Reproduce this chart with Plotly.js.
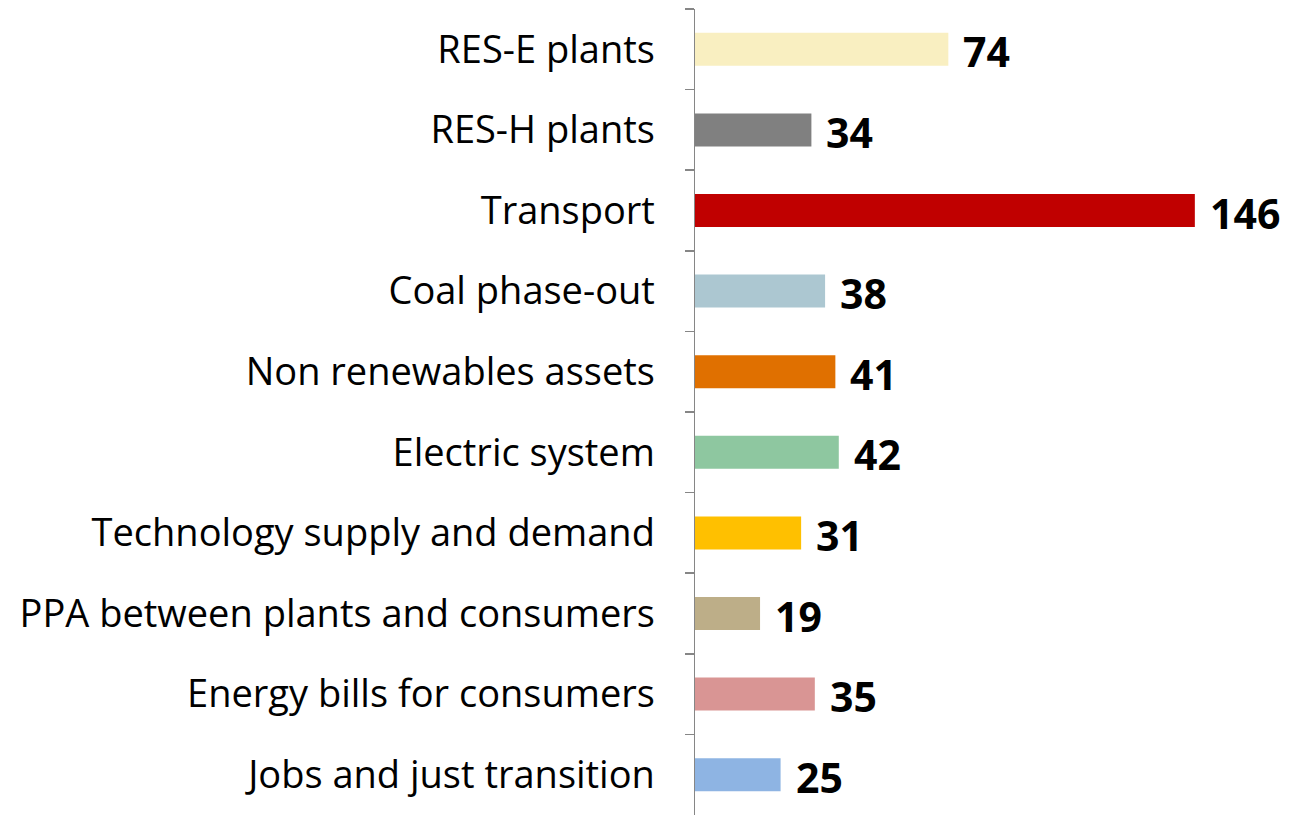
<!DOCTYPE html>
<html>
<head>
<meta charset="utf-8">
<script src="https://cdn.plot.ly/plotly-3.0.1.min.js"></script>
<style>html,body{margin:0;padding:0;background:#fff;}#chart{width:1305px;height:816px;}</style>
</head>
<body>
<div id="chart"></div>
<script>
const categories = ["RES-E plants","RES-H plants","Transport","Coal phase-out","Non renewables assets","Electric system","Technology supply and demand","PPA between plants and consumers","Energy bills for consumers","Jobs and just transition"];
const values = [74,34,146,38,41,42,31,19,35,25];
const barColors = ["#F9EFC1","#808080","#C00000","#ACC7D1","#E07000","#8EC7A0","#FFC000","#BDAE88","#D99594","#8EB4E3"];

const trace = {
  type: "bar",
  orientation: "h",
  x: values,
  y: categories,
  marker: {color: barColors, line: {width: 0}},
  hoverinfo: "none"
};

const annotations = values.map((v, i) => ({
  x: v, y: categories[i], xref: "x", yref: "y",
  text: String(v), showarrow: false, xanchor: "left", yanchor: "middle",
  xshift: 13, yshift: -2, font: {family: "Open Sans", size: 41, color: "#000", weight: 700}
}));

const layout = {
  width: 1305, height: 816,
  margin: {l: 695, r: 28, t: 9, b: 1},
  paper_bgcolor: "#fff", plot_bgcolor: "#fff",
  showlegend: false,
  bargap: 0.59,
  xaxis: {range: [0, 170], visible: false, showgrid: false, zeroline: false, fixedrange: true},
  yaxis: {
    type: "category", autorange: "reversed",
    showline: true, linecolor: "#868686", linewidth: 1.5,
    ticks: "outside", tickson: "boundaries", ticklen: 9, tickcolor: "#868686", tickwidth: 1.5,
    ticklabelstandoff: 31,
    showgrid: false, zeroline: false,
    tickfont: {family: "Open Sans", size: 38, color: "#000"}
  },
  annotations: annotations
};

Plotly.newPlot("chart", [trace], layout, {displayModeBar: false, staticPlot: true});
</script>
</body>
</html>
